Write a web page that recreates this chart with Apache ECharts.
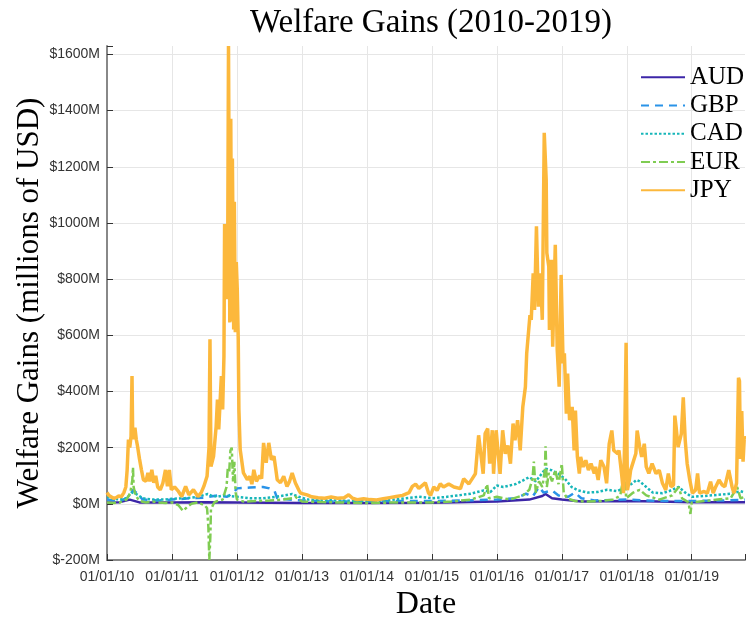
<!DOCTYPE html>
<html>
<head>
<meta charset="utf-8">
<script src="https://cdn.jsdelivr.net/npm/echarts@6/dist/echarts.min.js"></script>
<style>
  html, body { margin: 0; padding: 0; background: #fff; }
  #chart { width: 746px; height: 618px; }
</style>
</head>
<body>
<div id="chart"></div>
<script>
// x values are decimal years (2010.5 = mid 2010), y values in millions of USD
var yearTicks = [2010, 2011, 2012, 2013, 2014, 2015, 2016, 2017, 2018, 2019];

var aud = [
  [2010.00, 5], [2010.20, 6], [2010.35, 15], [2010.50, 5], [2011.00, 5], [2011.50, 6],
  [2012.00, 5], [2013.00, 3], [2014.00, 3], [2015.00, 4], [2016.00, 8], [2016.50, 15],
  [2016.70, 28], [2016.75, 35], [2016.85, 20], [2017.00, 15], [2017.30, 8], [2018.00, 10],
  [2018.50, 8], [2019.00, 6], [2019.82, 6]
];

var gbp = [
  [2010.00, 15], [2010.20, 10], [2010.35, 25], [2010.40, 50], [2010.45, 40], [2010.55, 15],
  [2010.80, 12], [2011.00, 15], [2011.30, 20], [2011.50, 22], [2011.70, 30], [2011.85, 25],
  [2011.95, 40], [2012.00, 55], [2012.20, 58], [2012.40, 60], [2012.50, 55], [2012.58, 45],
  [2012.62, 20], [2012.80, 15], [2013.00, 12], [2013.50, 8], [2014.00, 8], [2014.50, 10],
  [2015.00, 10], [2015.50, 12], [2016.00, 15], [2016.30, 20], [2016.45, 36], [2016.55, 25],
  [2016.65, 60], [2016.72, 40], [2016.85, 48], [2016.95, 30], [2017.10, 25], [2017.20, 40],
  [2017.30, 20], [2017.50, 12], [2018.00, 15], [2018.30, 12], [2018.60, 10], [2019.00, 10],
  [2019.50, 12], [2019.82, 15]
];

var cad = [
  [2010.00, 25], [2010.10, 18], [2010.20, 15], [2010.30, 20], [2010.38, 40], [2010.45, 35],
  [2010.55, 20], [2010.70, 15], [2010.90, 15], [2011.00, 18], [2011.20, 20], [2011.40, 25],
  [2011.55, 35], [2011.60, 30], [2011.70, 25], [2011.80, 30], [2012.00, 25], [2012.20, 20],
  [2012.40, 20], [2012.60, 25], [2012.85, 35], [2012.95, 25], [2013.10, 15], [2013.50, 12],
  [2014.00, 10], [2014.30, 12], [2014.60, 20], [2014.80, 25], [2015.00, 20], [2015.20, 24],
  [2015.40, 30], [2015.60, 36], [2015.80, 48], [2015.90, 42], [2016.00, 65], [2016.10, 60],
  [2016.30, 71], [2016.50, 95], [2016.60, 80], [2016.70, 110], [2016.75, 125], [2016.85, 119],
  [2016.95, 107], [2017.05, 89], [2017.15, 60], [2017.25, 48], [2017.40, 40], [2017.55, 42],
  [2017.70, 50], [2017.85, 45], [2018.00, 60], [2018.10, 75], [2018.15, 85], [2018.20, 80],
  [2018.30, 60], [2018.40, 40], [2018.55, 38], [2018.65, 45], [2018.80, 60], [2018.90, 40],
  [2019.00, 25], [2019.20, 28], [2019.40, 32], [2019.60, 36], [2019.75, 45], [2019.82, 40]
];

var eur = [
  [2010.00, 5], [2010.10, 3], [2010.20, 5], [2010.30, 15], [2010.36, 40], [2010.39, 85],
  [2010.40, 130], [2010.41, 60], [2010.44, 30], [2010.50, 10], [2010.60, 5], [2010.70, 8],
  [2010.80, 5], [2010.90, 3], [2011.00, 5], [2011.10, -5], [2011.17, -25], [2011.20, -30],
  [2011.24, -10], [2011.30, 0], [2011.40, 5], [2011.50, -5], [2011.54, -15], [2011.56, -80],
  [2011.575, -200], [2011.59, -120], [2011.60, -20], [2011.65, 5], [2011.70, 10], [2011.78, 15],
  [2011.84, 60], [2011.86, 130], [2011.88, 110], [2011.90, 190], [2011.92, 200], [2011.94, 80],
  [2011.96, 150], [2011.98, 40], [2012.00, 15], [2012.10, 8], [2012.30, 10], [2012.50, 12],
  [2012.70, 15], [2012.85, 20], [2012.90, 25], [2013.00, 8], [2013.50, 5], [2014.00, 3],
  [2014.50, 5], [2015.00, 5], [2015.30, 8], [2015.60, 15], [2015.80, 30], [2015.85, 70],
  [2015.88, 20], [2016.00, 25], [2016.20, 15], [2016.40, 30], [2016.50, 50], [2016.55, 90],
  [2016.57, 150], [2016.60, 40], [2016.65, 80], [2016.70, 60], [2016.74, 120], [2016.75, 205],
  [2016.77, 60], [2016.80, 110], [2016.85, 80], [2016.90, 120], [2016.95, 70], [2017.00, 143],
  [2017.03, 40], [2017.08, 20], [2017.20, 10], [2017.40, 8], [2017.60, 10], [2017.80, 15],
  [2017.90, 30], [2017.97, 120], [2017.99, 20], [2018.10, 40], [2018.20, 50], [2018.30, 30],
  [2018.50, 15], [2018.70, 30], [2018.80, 60], [2018.85, 20], [2018.95, 5], [2018.98, -36],
  [2019.00, 5], [2019.20, 10], [2019.40, 15], [2019.60, 20], [2019.70, 60], [2019.75, 20],
  [2019.82, 25]
];

var jpy = [
  [2010.00, 40], [2010.03, 30], [2010.06, 24], [2010.10, 20], [2010.14, 22], [2010.18, 28],
  [2010.22, 25], [2010.26, 40], [2010.29, 60], [2010.31, 120], [2010.33, 229], [2010.35, 200],
  [2010.37, 240], [2010.385, 455], [2010.395, 253], [2010.41, 230], [2010.43, 271], [2010.45, 230],
  [2010.47, 205], [2010.50, 160], [2010.53, 121], [2010.56, 86], [2010.60, 80], [2010.63, 110],
  [2010.66, 80], [2010.69, 121], [2010.72, 75], [2010.75, 100], [2010.78, 60], [2010.82, 50],
  [2010.86, 74], [2010.90, 121], [2010.93, 62], [2010.96, 121], [2010.99, 50], [2011.04, 60],
  [2011.10, 44], [2011.15, 26], [2011.21, 62], [2011.26, 32], [2011.33, 50], [2011.40, 26],
  [2011.45, 40], [2011.49, 62], [2011.54, 98], [2011.57, 200], [2011.585, 586], [2011.60, 133],
  [2011.64, 169], [2011.68, 276], [2011.70, 371], [2011.72, 265], [2011.76, 455], [2011.78, 336],
  [2011.80, 526], [2011.81, 996], [2011.84, 996], [2011.855, 729], [2011.87, 1630], [2011.89, 646],
  [2011.905, 1371], [2011.92, 650], [2011.93, 1229], [2011.95, 621], [2011.96, 1075], [2011.975, 611],
  [2011.99, 861], [2012.005, 764], [2012.02, 586], [2012.03, 336], [2012.05, 193], [2012.10, 110],
  [2012.16, 86], [2012.20, 98], [2012.23, 70], [2012.26, 121], [2012.30, 80], [2012.35, 100],
  [2012.38, 90], [2012.41, 217], [2012.45, 146], [2012.49, 217], [2012.53, 157], [2012.57, 169],
  [2012.60, 120], [2012.62, 86], [2012.67, 75], [2012.72, 98], [2012.77, 62], [2012.81, 80],
  [2012.85, 110], [2012.90, 74], [2012.95, 50], [2012.98, 38], [2013.08, 32], [2013.15, 25],
  [2013.25, 22], [2013.35, 20], [2013.45, 24], [2013.55, 20], [2013.65, 22], [2013.72, 32],
  [2013.78, 20], [2013.85, 15], [2013.95, 18], [2014.05, 15], [2014.15, 14], [2014.25, 18],
  [2014.35, 22], [2014.45, 26], [2014.55, 30], [2014.65, 40], [2014.70, 62], [2014.75, 70],
  [2014.80, 55], [2014.85, 65], [2014.90, 75], [2014.95, 38], [2014.98, 30], [2015.03, 60],
  [2015.08, 48], [2015.13, 71], [2015.18, 60], [2015.26, 71], [2015.34, 60], [2015.44, 54],
  [2015.49, 89], [2015.52, 95], [2015.57, 71], [2015.62, 89], [2015.67, 107], [2015.72, 244],
  [2015.75, 250], [2015.79, 107], [2015.82, 250], [2015.86, 268], [2015.89, 143], [2015.93, 262],
  [2015.95, 107], [2015.99, 262], [2016.03, 155], [2016.05, 107], [2016.09, 262], [2016.13, 178],
  [2016.17, 208], [2016.21, 143], [2016.25, 286], [2016.28, 226], [2016.32, 298], [2016.36, 190],
  [2016.40, 345], [2016.44, 417], [2016.46, 536], [2016.51, 672], [2016.53, 655], [2016.56, 821],
  [2016.58, 690], [2016.61, 988], [2016.64, 702], [2016.67, 821], [2016.70, 655], [2016.73, 1321],
  [2016.76, 1154], [2016.77, 893], [2016.80, 845], [2016.81, 619], [2016.84, 869], [2016.86, 559],
  [2016.90, 922], [2016.93, 547], [2016.96, 417], [2016.99, 815], [2017.02, 500], [2017.04, 536],
  [2017.07, 321], [2017.09, 464], [2017.12, 298], [2017.16, 345], [2017.19, 190], [2017.21, 332],
  [2017.24, 167], [2017.27, 108], [2017.29, 167], [2017.33, 132], [2017.37, 155], [2017.41, 120],
  [2017.45, 143], [2017.50, 108], [2017.52, 132], [2017.56, 85], [2017.60, 155], [2017.65, 132],
  [2017.69, 73], [2017.73, 214], [2017.77, 261], [2017.80, 190], [2017.86, 179], [2017.88, 190],
  [2017.92, 108], [2017.95, 38], [2017.97, 249], [2017.99, 573], [2018.01, 49], [2018.04, 85],
  [2018.06, 120], [2018.14, 179], [2018.16, 261], [2018.20, 202], [2018.23, 167], [2018.27, 214],
  [2018.30, 132], [2018.34, 108], [2018.39, 143], [2018.45, 108], [2018.50, 120], [2018.55, 73],
  [2018.60, 49], [2018.64, 108], [2018.68, 61], [2018.72, 67], [2018.74, 314], [2018.76, 273],
  [2018.79, 202], [2018.84, 249], [2018.87, 379], [2018.90, 226], [2018.93, 143], [2018.97, 85],
  [2019.01, 38], [2019.06, 49], [2019.09, 108], [2019.12, 38], [2019.19, 44], [2019.24, 38],
  [2019.29, 79], [2019.33, 38], [2019.37, 61], [2019.42, 85], [2019.47, 67], [2019.51, 61],
  [2019.57, 120], [2019.62, 61], [2019.65, 38], [2019.69, 73], [2019.72, 449], [2019.735, 437],
  [2019.75, 160], [2019.77, 330], [2019.79, 150], [2019.81, 240], [2019.82, 230]
];

var chart = echarts.init(document.getElementById('chart'));

function mkLine(name, data, color, width, type) {
  return {
    name: name,
    type: 'line',
    data: data,
    symbol: 'none',
    showSymbol: false,
    legendIcon: 'none',
    animation: false,
    lineStyle: { color: color, width: width, type: type },
    itemStyle: { color: color }
  }
}

var serif = 'Liberation Serif';

var option = {
  backgroundColor: '#fff',
  animation: false,
  title: {
    text: 'Welfare Gains (2010-2019)',
    left: 426,
    top: 2,
    textAlign: 'center',
    textStyle: { fontFamily: serif, fontWeight: 'normal', fontSize: 33, color: '#000' }
  },
  legend: {
    orient: 'vertical',
    left: 635,
    top: 58,
    itemWidth: 44,
    itemHeight: 14,
    itemGap: 0,
    itemStyle: { opacity: 0 },
    textStyle: { fontFamily: serif, fontSize: 25, lineHeight: 28.3, color: '#000' },
    data: ['AUD', 'GBP', 'CAD', 'EUR', 'JPY']
  },
  grid: { left: 107, right: 1, top: 46, bottom: 58, outerBoundsMode: 'none', containLabel: false },
  xAxis: {
    type: 'value',
    min: 2010,
    max: 2019.82,
    interval: 1,
    name: 'Date',
    nameLocation: 'middle',
    nameGap: 25,
    nameTextStyle: { fontFamily: serif, fontSize: 32, color: '#000' },
    axisLine: { show: true, onZero: false, lineStyle: { color: '#888', width: 2 } },
    axisTick: { show: true, inside: true, length: 6, lineStyle: { color: '#333' } },
    axisLabel: {
      fontFamily: 'Liberation Sans', fontSize: 14, color: '#333', margin: 10,
      formatter: function (v) {
        if (yearTicks.indexOf(v) < 0) return '';
        return '01/01/' + String(v).slice(2);
      }
    },
    splitLine: { show: true, showMaxLine: false, lineStyle: { color: '#e6e6e6', width: 1 } }
  },
  yAxis: {
    type: 'value',
    min: -200,
    max: 1630,
    interval: 200,
    name: 'Welfare Gains (millions of USD)',
    nameLocation: 'middle',
    nameGap: 62,
    nameMoveOverlap: false,
    nameTextStyle: { fontFamily: serif, fontSize: 31, color: '#000' },
    axisLine: { show: true, lineStyle: { color: '#888', width: 2 } },
    axisTick: { show: true, inside: true, length: 6, lineStyle: { color: '#333' } },
    axisLabel: {
      fontFamily: 'Liberation Sans', fontSize: 14, color: '#333', margin: 7,
      formatter: function (v) {
        if (v % 200 !== 0) return '';
        return '$' + v + 'M';
      }
    },
    splitLine: { show: true, showMaxLine: false, lineStyle: { color: '#e6e6e6', width: 1 } }
  },
  series: [
    mkLine('AUD', aud, '#3c26a8', 2.5, 'solid'),
    mkLine('GBP', gbp, '#2a93e8', 2.5, [8, 6]),
    mkLine('CAD', cad, '#17b6b9', 2.5, [2.5, 2]),
    mkLine('EUR', eur, '#7fcc52', 2.5, [9, 3, 3, 3]),
    mkLine('JPY', jpy, '#fcb83c', 3.5, 'solid')
  ]
};

chart.setOption(option);
</script>
</body>
</html>
